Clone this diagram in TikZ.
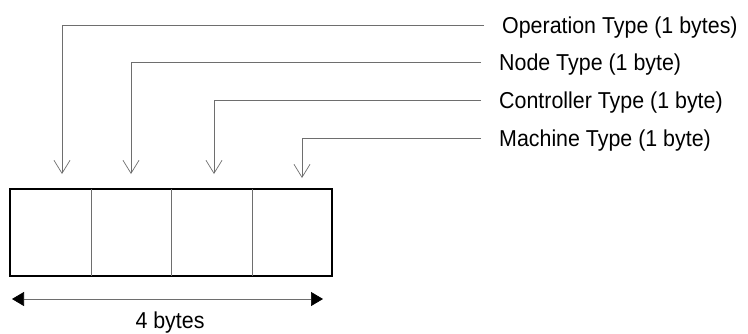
\documentclass[tikz,border=0pt]{standalone}
\usepackage{fontspec}
\setmainfont{Liberation Sans}
\newfontfamily\labelfont[FakeStretch=0.93]{Liberation Sans}
\usetikzlibrary{arrows.meta,positioning}
\definecolor{FieldLeaderGray}{HTML}{6E6E6E}

\begin{document}
\begin{tikzpicture}[x=1pt,y=-1pt,
    fieldlabel/.style={anchor=west,inner sep=0pt,font=\labelfont\fontsize{23}{27}\selectfont,text height=16.5pt,text depth=0pt},
    bytecell/.style={minimum height=87pt,inner sep=0pt,outer sep=0pt},
    leader/.style={FieldLeaderGray,line width=0.7pt}]
  \useasboundingbox (0,0) rectangle (748,333);
  % the four byte cells
  \node[bytecell,minimum width=81pt] (c1) at (50.5,232.5) {};
  \node[bytecell,minimum width=80pt,right=0pt of c1] (c2) {};
  \node[bytecell,minimum width=81pt,right=0pt of c2] (c3) {};
  \node[bytecell,minimum width=80pt,right=0pt of c3] (c4) {};
  \draw[line width=1.3pt] (c1.north west) rectangle (c4.south east);
  \foreach \a in {c1,c2,c3}{
    \draw[leader] (\a.north east) -- (\a.south east);
  }
  % field labels with their leaders
  \foreach \i/\lx/\ly/\tx/\ty/\label in {
      1/502/25.7/62/174/{Operation Type (1 bytes)},
      2/499/62.3/131/174/{Node Type (1 byte)},
      3/499/100.7/214/174/{Controller Type (1 byte)},
      4/499/138.3/302/178/{Machine Type (1 byte)}}{
    \node[fieldlabel] (l\i) at (\lx,\ly) {\label};
    \coordinate (t\i) at (\tx,\ty);
    \draw[leader,shorten <=18pt,-{Straight Barb[length=13pt,width=16pt]}]
      (l\i.west) -| (t\i);
  }
  % overall size
  \coordinate (d1) at (12,299);
  \coordinate (d2) at (323,299);
  \draw[leader,{Triangle[length=12pt,width=14pt,black]}-{Triangle[length=12pt,width=14pt,black]}]
    (d1) -- (d2);
  \node[fieldlabel,anchor=center] (size) at (170,320) {4 bytes};
\end{tikzpicture}
\end{document}
